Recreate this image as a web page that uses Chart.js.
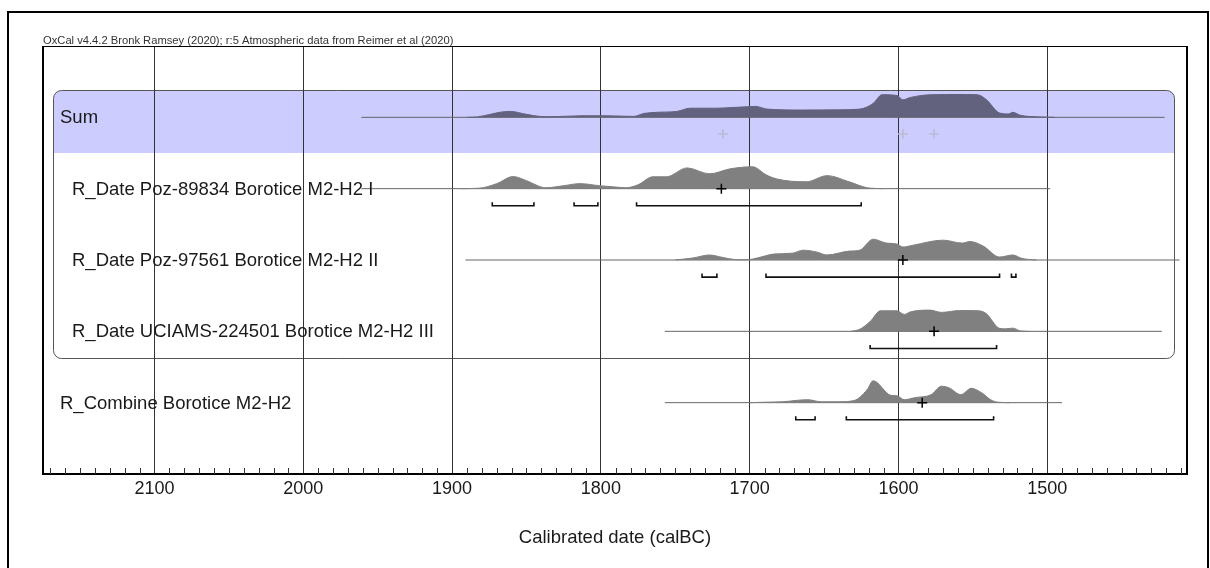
<!DOCTYPE html>
<html>
<head>
<meta charset="utf-8">
<script src="https://cdn.jsdelivr.net/npm/chart.js@4.4.1/dist/chart.umd.min.js"></script>
<style>
  html, body { margin: 0; padding: 0; background: #fff; }
  canvas { display: block; }
</style>
</head>
<body>
<canvas id="chart" width="1210" height="568"></canvas>
<script>
const FONT = '"Liberation Sans", Arial, sans-serif';

// rows, top to bottom
const rowLabels = [
  "Sum",
  "R_Date Poz-89834 Borotice M2-H2 I",
  "R_Date Poz-97561 Borotice M2-H2 II",
  "R_Date UCIAMS-224501 Borotice M2-H2 III",
  "R_Combine Borotice M2-H2",
];

// axis ticks (calBC)
const majorTicks = [2100, 2000, 1900, 1800, 1700, 1600, 1500];

// extent of the thin line of each row (calBC)
const rowSpans = [[1961, 1421], [1961, 1498], [1891, 1411], [1757, 1423], [1757, 1490]];

// probability distributions: years calBC / relative probability (%)
const sumYears = [1890, 1883, 1875, 1868, 1861, 1850, 1841, 1834, 1822, 1812, 1800, 1790, 1778, 1771, 1762, 1749, 1740, 1722, 1712, 1699, 1696, 1688, 1665, 1640, 1626, 1617, 1611, 1601, 1597, 1592, 1578, 1560, 1547, 1541, 1532, 1526, 1523, 1518, 1505, 1495];
const sumProb = [0, 2, 12, 22, 26, 13, 4, 3, 5, 7, 7, 6, 4, 17, 22, 26, 40, 40, 43, 47, 48, 36, 32, 33, 36, 61, 99, 96, 77, 87, 99, 100, 99, 78, 19, 15, 22, 9, 2, 0];

const poz89834Years = [1895, 1882, 1870, 1859, 1850, 1837, 1825, 1814, 1801, 1790, 1783, 1775, 1765, 1756, 1742, 1727, 1713, 1698, 1689, 1682, 1662, 1648, 1633, 1621, 1610];
const poz89834Prob = [0, 2, 22, 53, 35, 4, 13, 22, 13, 7, 4, 17, 52, 52, 91, 65, 87, 96, 61, 43, 30, 57, 30, 4, 0];

const poz97561Years = [1750, 1738, 1727, 1718, 1710, 1703, 1698, 1690, 1684, 1671, 1664, 1655, 1648, 1633, 1626, 1617, 1608, 1601, 1597, 1590, 1570, 1557, 1552, 1543, 1532, 1523, 1517, 1507];
const poz97561Prob = [0, 9, 22, 11, 2, 1, 4, 17, 26, 30, 43, 35, 22, 39, 43, 91, 74, 70, 57, 65, 87, 74, 81, 61, 13, 22, 7, 0];

const uciamsYears = [1632, 1626, 1619, 1612, 1601, 1596, 1592, 1579, 1571, 1559, 1546, 1541, 1532, 1528, 1523, 1518, 1512];
const uciamsProb = [0, 9, 43, 90, 90, 74, 85, 93, 83, 91, 90, 78, 13, 11, 14, 2, 0];

const combineYears = [1700, 1690, 1678, 1661, 1652, 1640, 1630, 1621, 1617, 1605, 1601, 1596, 1589, 1578, 1571, 1566, 1558, 1551, 1544, 1538, 1533, 1525];
const combineProb = [0, 2, 4, 13, 4, 4, 9, 57, 96, 32, 30, 13, 22, 35, 72, 65, 35, 63, 43, 13, 2, 0];

// means (crosses)
const sumMeans = [1718, 1597, 1576];
const rowMeans = [null, 1719, 1597, 1576, 1584];

// 95.4% ranges
const poz89834Ranges = [[1873, 1845], [1818, 1802], [1776, 1625]];
const poz97561Ranges = [[1732, 1722], [1689, 1532], [1524, 1521]];
const uciamsRanges = [[1619, 1534]];
const combineRanges = [[1669, 1656], [1635, 1536]];

const PEAK = 0.32;       // row units for 100%
const RANGE_DROP = 0.24; // ranges below the line
const RANGE_TICK = 0.05;

function distData(years, prob, row) {
  return years.map((yr, i) => ({ x: yr, y: row - (prob[i] / 100) * PEAK }));
}

function rangeData(ranges, row) {
  const pts = [];
  const y = row + RANGE_DROP;
  ranges.forEach(([a, b]) => {
    pts.push({ x: a, y: y - RANGE_TICK }, { x: a, y: y }, { x: b, y: y }, { x: b, y: y - RANGE_TICK }, { x: b, y: null });
  });
  return pts;
}

const datasets = [];

// crosses
datasets.push({
  data: sumMeans.map((m) => ({ x: m, y: RANGE_DROP - 0.005 })),
  showLine: false,
  pointStyle: "cross",
  pointRadius: 5,
  pointBorderWidth: 1.5,
  pointBorderColor: "#babad4",
  order: 0,
});
datasets.push({
  data: rowMeans.map((m, row) => (m === null ? null : { x: m, y: row })).filter((p) => p),
  showLine: false,
  pointStyle: "cross",
  pointRadius: 5,
  pointBorderWidth: 1.5,
  pointBorderColor: "#000",
  order: 0,
});

// ranges
[poz89834Ranges, poz97561Ranges, uciamsRanges, combineRanges].forEach((r, i) => {
  datasets.push({
    data: rangeData(r, i + 1),
    borderColor: "#111",
    borderWidth: 1.6,
    pointRadius: 0,
    spanGaps: false,
    order: 1,
  });
});

// distributions
[
  [sumYears, sumProb, "#62617e"],
  [poz89834Years, poz89834Prob, "#808080"],
  [poz97561Years, poz97561Prob, "#808080"],
  [uciamsYears, uciamsProb, "#808080"],
  [combineYears, combineProb, "#808080"],
].forEach(([yrs, prob, col], row) => {
  datasets.push({
    data: distData(yrs, prob, row),
    borderColor: col,
    backgroundColor: col,
    borderWidth: 1,
    pointRadius: 0,
    fill: { value: row },
    cubicInterpolationMode: "monotone",
    order: 2,
  });
});

// thin row lines
rowSpans.forEach(([a, b], row) => {
  datasets.push({
    data: [{ x: a, y: row }, { x: b, y: row }],
    borderColor: "#666",
    borderWidth: 1,
    pointRadius: 0,
    order: 3,
  });
});

const oxcalPlugin = {
  id: "oxcal",
  beforeDraw(chart) {
    const { ctx, chartArea: a } = chart;
    const y = chart.scales.y;
    ctx.save();
    ctx.fillStyle = "#fff";
    ctx.fillRect(0, 0, chart.width, chart.height);

    // group box with blue sum band
    const bx0 = a.left + 10.5;
    const bx1 = a.right - 12.5;
    const by0 = Math.round(y.getPixelForValue(-0.38)) + 0.5;
    const by1 = Math.round(y.getPixelForValue(3.38)) + 0.5;
    const band = Math.round(y.getPixelForValue(0.5));
    ctx.beginPath();
    ctx.roundRect(bx0, by0, bx1 - bx0, band - by0, [8, 8, 0, 0]);
    ctx.fillStyle = "#ccccff";
    ctx.fill();
    ctx.beginPath();
    ctx.roundRect(bx0, by0, bx1 - bx0, by1 - by0, 8);
    ctx.strokeStyle = "#555";
    ctx.lineWidth = 1;
    ctx.stroke();

    // outer frame
    ctx.strokeStyle = "#000";
    ctx.lineWidth = 2;
    ctx.strokeRect(8, 12, 1200, 600);

    // header
    ctx.font = "11.2px " + FONT;
    ctx.fillStyle = "#333";
    ctx.textBaseline = "alphabetic";
    ctx.textAlign = "left";
    ctx.fillText("OxCal v4.4.2 Bronk Ramsey (2020); r:5 Atmospheric data from Reimer et al (2020)", a.left, a.top - 2);
    ctx.restore();
  },
  afterDatasetsDraw(chart) {
    const { ctx } = chart;
    const y = chart.scales.y;
    ctx.save();
    ctx.font = "18.5px " + FONT;
    ctx.fillStyle = "#1a1a1a";
    ctx.textBaseline = "middle";
    ctx.textAlign = "left";
    rowLabels.forEach((label, row) => {
      const lx = row === 0 || row === 4 ? 60 : 72;
      ctx.fillText(label, lx, y.getPixelForValue(row) + 1);
    });
    ctx.restore();
  },
  afterDraw(chart) {
    const { ctx, chartArea: a } = chart;
    const x = chart.scales.x;
    ctx.save();
    // plot frame
    ctx.strokeStyle = "#000";
    ctx.lineWidth = 1;
    ctx.beginPath();
    ctx.moveTo(a.left, a.top + 0.5);
    ctx.lineTo(a.right, a.top + 0.5);
    ctx.stroke();
    ctx.lineWidth = 2;
    ctx.beginPath();
    ctx.moveTo(a.left, a.top);
    ctx.lineTo(a.left, a.bottom);
    ctx.moveTo(a.right, a.top);
    ctx.lineTo(a.right, a.bottom);
    ctx.stroke();

    // minor ticks every 10 years
    ctx.strokeStyle = "#333";
    ctx.lineWidth = 1;
    ctx.beginPath();
    for (let v = Math.floor(x.max / 10) * 10; v >= x.min; v -= 10) {
      if (v % 100 === 0) continue;
      const px = Math.round(x.getPixelForValue(v)) + 0.5;
      ctx.moveTo(px, a.bottom);
      ctx.lineTo(px, a.bottom - 6);
    }
    ctx.stroke();

    // axis title
    ctx.font = "18.5px " + FONT;
    ctx.fillStyle = "#1a1a1a";
    ctx.textAlign = "center";
    ctx.textBaseline = "middle";
    ctx.fillText("Calibrated date (calBC)", (a.left + a.right) / 2, 538);
    ctx.restore();
  },
};

new Chart(document.getElementById("chart"), {
  type: "line",
  data: { datasets },
  options: {
    responsive: false,
    animation: false,
    devicePixelRatio: 1,
    layout: { padding: { left: 43, right: 23, top: 46, bottom: 0 } },
    plugins: {
      legend: { display: false },
      tooltip: { enabled: false },
    },
    scales: {
      x: {
        type: "linear",
        reverse: true,
        min: 1406,
        max: 2175,
        z: 1,
        afterBuildTicks: (s) => {
          s.ticks = majorTicks.map((v) => ({ value: v }));
        },
        afterFit: (s) => {
          s.height = 94;
        },
        grid: { color: "#333", lineWidth: 1, drawTicks: false },
        border: { display: true, color: "#000", width: 2 },
        ticks: {
          padding: 4,
          color: "#1a1a1a",
          font: { family: FONT, size: 18 },
          maxRotation: 0,
          autoSkip: false,
          callback: (v) => String(v),
        },
      },
      y: { display: false, min: -1, max: 5, reverse: true },
    },
  },
  plugins: [oxcalPlugin],
});
</script>
</body>
</html>
